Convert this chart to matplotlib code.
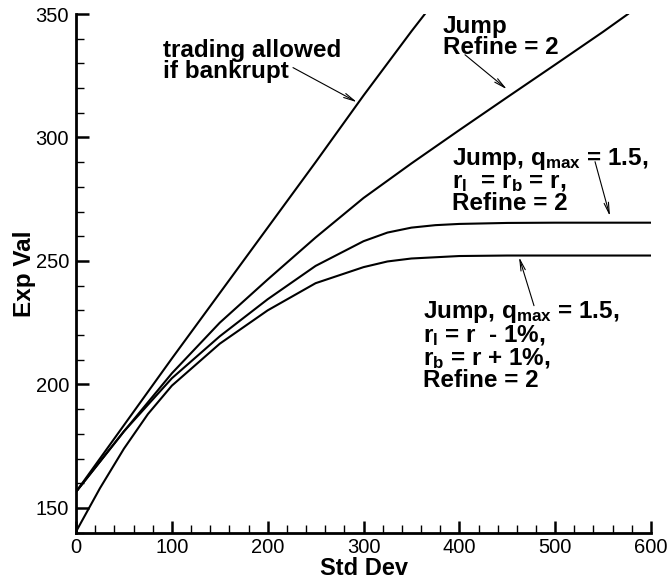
import matplotlib
matplotlib.use("Agg")
import matplotlib.pyplot as plt
from matplotlib.ticker import MultipleLocator

plt.rcParams['font.family'] = ['Liberation Sans', 'DejaVu Sans']
plt.rcParams['mathtext.fontset'] = 'custom'
plt.rcParams['mathtext.rm'] = 'Liberation Sans:bold'
plt.rcParams['mathtext.it'] = 'Liberation Sans:bold'
plt.rcParams['mathtext.bf'] = 'Liberation Sans:bold'

# trading allowed if bankrupt
std_bankrupt = [0, 50, 100, 150, 200, 250, 300, 350, 364]
exp_bankrupt = [156.5, 183.5, 210.5, 237, 263.5, 290, 317, 343, 350]

# Jump, Refine = 2
std_jump = [0, 50, 100, 150, 200, 250, 300, 350, 400, 450, 500, 550, 576]
exp_jump = [156.5, 181, 204.5, 225, 242.5, 259.5, 275.5, 289.5, 303,
            316.3, 329.5, 342.8, 350]

# Jump, qmax = 1.5, rl = rb = r
std_q = [0, 50, 100, 150, 200, 250, 300, 325, 350, 375, 400, 450, 500, 600]
exp_q = [156.5, 181, 202.5, 219.5, 234.5, 248, 258, 261.5, 263.5, 264.5,
         265, 265.4, 265.5, 265.5]

# Jump, qmax = 1.5, rl = r - 1%, rb = r + 1%
std_spread = [0, 25, 50, 75, 100, 150, 200, 250, 300, 325, 350, 400, 450, 600]
exp_spread = [140.4, 158, 174, 188, 199.5, 216.5, 230, 241, 247.5, 249.8,
              251, 252, 252.2, 252.2]

f = plt.figure(figsize=(6.67, 5.84), dpi=100)
ax = f.add_axes([0.114, 0.088, 0.862, 0.888])

for xs, ys in [(std_bankrupt, exp_bankrupt), (std_jump, exp_jump),
               (std_q, exp_q), (std_spread, exp_spread)]:
    ax.plot(xs, ys, color='black', lw=1.5)

ax.set_xlim(0, 600)
ax.set_ylim(140, 350)
ax.xaxis.set_major_locator(MultipleLocator(100))
ax.xaxis.set_minor_locator(MultipleLocator(20))
ax.yaxis.set_major_locator(MultipleLocator(50))
ax.yaxis.set_minor_locator(MultipleLocator(10))

ax.spines['top'].set_visible(False)
ax.spines['right'].set_visible(False)
ax.spines['left'].set_linewidth(2)
ax.spines['bottom'].set_linewidth(2)
ax.tick_params(which='major', direction='in', length=9, width=1.8,
               labelsize=14.5, pad=5)
ax.tick_params(axis='x', which='major', pad=4)
ax.tick_params(which='minor', direction='in', length=6, width=1)

ax.set_xlabel("Std Dev", fontsize=17, fontweight='bold', labelpad=0)
ax.set_ylabel("Exp Val", fontsize=17.5, fontweight='bold', labelpad=0)

arrow = dict(arrowstyle='->,head_length=0.8,head_width=0.16', lw=0.8,
             color='black', shrinkA=0, shrinkB=0)
fs = 17.5
ls = 0.9

ax.text(90.8, 340, "trading allowed\nif bankrupt", fontsize=fs,
        fontweight='bold', va='top', ha='left', linespacing=ls)
ax.annotate("", xy=(293.2, 314.3), xytext=(226.4, 328.3), arrowprops=arrow)

ax.text(383, 349.6, "Jump\nRefine = 2", fontsize=fs, fontweight='bold',
        va='top', ha='left', linespacing=ls)
ax.annotate("", xy=(449.7, 319.5), xytext=(405.9, 333.5), arrowprops=arrow)

ax.text(392.3, 296.6, "Jump, q$_{max}$ = 1.5,\nr$_{l}$  = r$_{b}$ = r,\nRefine = 2",
        fontsize=fs, fontweight='bold', va='top', ha='left', linespacing=ls)
ax.annotate("", xy=(557.2, 268.1), xytext=(541.6, 290.2), arrowprops=arrow)

ax.text(362, 234.5,
        "Jump, q$_{max}$ = 1.5,\nr$_{l}$ = r  - 1%,\nr$_{b}$ = r + 1%,\nRefine = 2",
        fontsize=fs, fontweight='bold', va='top', ha='left', linespacing=ls)
ax.annotate("", xy=(462.3, 251.6), xytext=(477.9, 231.9), arrowprops=arrow)

f.savefig("out.png", dpi=100)
plt.close()
